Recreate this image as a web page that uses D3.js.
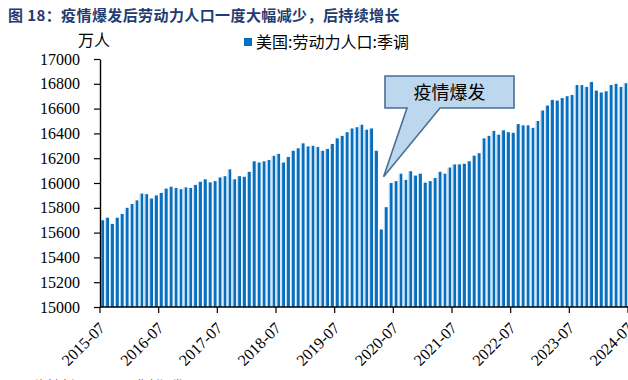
<!DOCTYPE html>
<html><head><meta charset="utf-8">
<script src="https://cdn.jsdelivr.net/npm/d3@7"></script>
<style>
html,body{margin:0;padding:0;background:#fff;}
svg{display:block;}
</style></head>
<body>
<svg id="chart" width="628" height="380"></svg>
<script>
// ---- data ----
const startYear = 2015, startMonthIdx = 6; // July (0-based)
const monthCount = 108;
const laborForce = [
  15700,15720,15670,15720,15750,15800,15830,15860,15915,15910,15875,15900,
  15920,15955,15970,15960,15950,15965,15960,15985,16010,16030,16005,16015,
  16045,16055,16110,16030,16055,16050,16090,16175,16165,16175,16185,16220,
  16235,16165,16210,16260,16280,16320,16295,16300,16290,16260,16275,16315,
  16360,16380,16410,16440,16450,16470,16430,16440,16260,15625,15805,16000,
  16015,16075,16025,16095,16060,16075,16003,16015,16040,16090,16075,16125,
  16150,16150,16155,16175,16220,16240,16360,16380,16420,16390,16425,16410,
  16405,16475,16465,16465,16445,16500,16585,16625,16670,16665,16685,16700,
  16710,16790,16790,16775,16815,16745,16730,16740,16790,16800,16775,16805
];
const yTicks = [15000,15200,15400,15600,15800,16000,16200,16400,16600,16800,17000];
const xTickLabels = ["2015-07","2016-07","2017-07","2018-07","2019-07","2020-07","2021-07","2022-07","2023-07","2024-07"];
const titleText = "图 18：疫情爆发后劳动力人口一度大幅减少，后持续增长";
const unitText = "万人";
const legendText = "美国:劳动力人口:季调";
const calloutText = "疫情爆发";
const calloutMonth = "2020-04";
const calloutValue = 16050;
const sourceText = "资料来源：Wind，华创证券";

// ---- build ----
const months = d3.range(monthCount).map(i => {
  const t = startMonthIdx + i;
  const yr = startYear + Math.floor(t / 12);
  const mo = t % 12 + 1;
  return yr + "-" + String(mo).padStart(2, "0");
});
const data = months.map((m, i) => ({m, v: laborForce[i]}));

const svg = d3.select("#chart");
const serif = "'Liberation Serif','Times New Roman',serif";
const cjk = "'Noto Sans CJK SC','Liberation Serif',sans-serif";
const blue = "#0070c0";

const x = d3.scaleBand().domain(months).range([100, 628]).padding(0);
const y = d3.scaleLinear().domain([15000, 17000]).range([307, 59]);

const defs = svg.append("defs");
const g = defs.append("linearGradient").attr("id", "barGrad")
  .attr("x1", 0).attr("x2", 1).attr("y1", 0).attr("y2", 0);
g.append("stop").attr("offset", "0").attr("stop-color", "#a9cdec");
g.append("stop").attr("offset", "0.26").attr("stop-color", "#a9cdec");
g.append("stop").attr("offset", "0.34").attr("stop-color", "#0a72c2");
g.append("stop").attr("offset", "1").attr("stop-color", "#006bb9");

// title
svg.append("text").attr("x", 8).attr("y", 21)
  .attr("font-family", cjk).attr("font-weight", "bold").attr("font-size", 15)
  .attr("letter-spacing", 0.4)
  .attr("fill", "#1f3c73").text(titleText);

// unit
svg.append("text").attr("x", 78).attr("y", 46)
  .attr("font-family", cjk).attr("font-size", 16).attr("fill", "#000").text(unitText);

// legend
svg.append("rect").attr("x", 244).attr("y", 38).attr("width", 8).attr("height", 8).attr("fill", blue);
svg.append("text").attr("x", 256).attr("y", 48)
  .attr("font-family", cjk).attr("font-size", 16).attr("fill", "#000").text(legendText);

// bars
svg.append("g").selectAll("rect").data(data).join("rect")
  .attr("x", d => x(d.m) + 0.4)
  .attr("y", d => y(d.v))
  .attr("width", x.bandwidth() * 0.76)
  .attr("height", d => y(15000) - y(d.v))
  .attr("fill", "url(#barGrad)");

// y axis
const yAxis = svg.append("g").attr("transform", "translate(100,0)")
  .call(d3.axisLeft(y).tickValues(yTicks).tickSize(6).tickPadding(14).tickSizeOuter(0).tickFormat(d3.format("d")));
yAxis.select(".domain").attr("stroke", "#000").attr("stroke-width", 1.4);
yAxis.selectAll(".tick line").attr("stroke", "#000").attr("stroke-width", 1.2);
yAxis.selectAll(".tick text").attr("font-family", serif).attr("font-size", 16).attr("fill", "#000");

// x axis
const tickX = lab => (x(lab) !== undefined ? x(lab) : x.range()[1]);
const xAxis = svg.append("g");
xAxis.append("line").attr("x1", x.range()[0]).attr("x2", x.range()[1])
  .attr("y1", y(15000)).attr("y2", y(15000)).attr("stroke", "#000").attr("stroke-width", 1.4);
xAxis.selectAll("line.tk").data(xTickLabels).join("line").attr("class", "tk")
  .attr("x1", d => tickX(d)).attr("x2", d => tickX(d))
  .attr("y1", y(15000)).attr("y2", y(15000) + 6).attr("stroke", "#000").attr("stroke-width", 1.2);
xAxis.selectAll("text").data(xTickLabels).join("text")
  .attr("transform", d => `translate(${tickX(d) + 6},${y(15000) + 22}) rotate(-45)`)
  .attr("text-anchor", "end")
  .attr("font-family", serif).attr("font-size", 16).attr("fill", "#000")
  .text(d => d);

// callout
const tipX = x(calloutMonth) + x.step();
const tipY = y(calloutValue);
const bx0 = 385, bx1 = 514, by0 = 76, by1 = 108;
const path = `M${bx0},${by0}H${bx1}V${by1}H440L${tipX},${tipY}L407,${by1}H${bx0}Z`;
svg.append("path").attr("d", path).attr("fill", "#bdd7ee")
  .attr("stroke", "#4a6f96").attr("stroke-width", 1.6).attr("stroke-linejoin", "miter");
svg.append("text").attr("x", (bx0 + bx1) / 2).attr("y", 99)
  .attr("text-anchor", "middle").attr("font-family", cjk).attr("font-size", 18)
  .attr("fill", "#000").text(calloutText);

// source (cut off at bottom)
svg.append("text").attr("x", 35).attr("y", 390)
  .attr("font-family", cjk).attr("font-size", 12).attr("fill", "#555").text(sourceText);
</script>
</body></html>
